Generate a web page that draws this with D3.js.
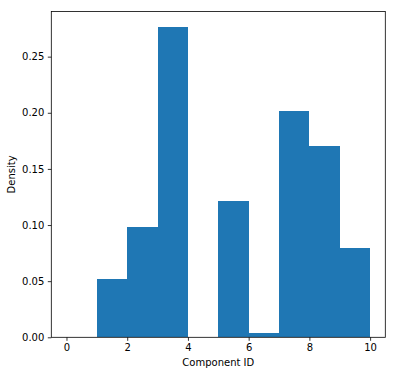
<!DOCTYPE html>
<html>
<head>
<meta charset="utf-8">
<script src="https://cdn.jsdelivr.net/npm/d3@7"></script>
<style>
  body { margin: 0; background: #fff; }
  text { font-family: "DejaVu Sans", sans-serif; }
</style>
</head>
<body>
<script>
// histogram bins (left edge, right edge) and density per bin
var binStarts = [0, 1, 2, 3, 4, 5, 6, 7, 8, 9];
var binEnds = [1, 2, 3, 4, 5, 6, 7, 8, 9, 10];
var density = [0, 0.0518, 0.0982, 0.2764, 0, 0.121, 0.0041, 0.2018, 0.1707, 0.0793];
var xTicks = [0, 2, 4, 6, 8, 10];
var yTicks = [0, 0.05, 0.10, 0.15, 0.20, 0.25];

var width = 396,
    height = 375,
    margin = {top: 11.5, right: 10.7, bottom: 37.7, left: 51.3};

var x = d3.scaleLinear()
    .domain([-0.5, 10.5])
    .range([margin.left, width - margin.right]);

var y = d3.scaleLinear()
    .domain([0, d3.max(density) * 1.05])
    .range([height - margin.bottom, margin.top]);

var svg = d3.select("body").append("svg")
    .attr("width", width)
    .attr("height", height);

var bins = binStarts.map(function(s, i) {
  return {x0: s, x1: binEnds[i], v: density[i]};
});

svg.append("g").selectAll("rect")
    .data(bins)
  .enter().append("rect")
    .attr("x", function(d) { return x(d.x0); })
    .attr("width", function(d) { return x(d.x1) - x(d.x0); })
    .attr("y", function(d) { return y(d.v); })
    .attr("height", function(d) { return y(0) - y(d.v); })
    .attr("fill", "#1f77b4")
    .attr("shape-rendering", "crispEdges");

var xAxis = svg.append("g")
    .attr("transform", "translate(0," + (height - margin.bottom) + ")")
    .call(d3.axisBottom(x).tickValues(xTicks).tickFormat(d3.format("d")).tickSize(3.5).tickPadding(3.5));

var yAxis = svg.append("g")
    .attr("transform", "translate(" + margin.left + ",0)")
    .call(d3.axisLeft(y).tickValues(yTicks).tickFormat(d3.format(".2f")).tickSize(3.5).tickPadding(3.5));

[xAxis, yAxis].forEach(function(g) {
  g.select(".domain").remove();
  g.selectAll(".tick line").attr("stroke", "#000").attr("stroke-width", 0.8);
  g.selectAll(".tick text").attr("fill", "#000").style("font-size", "10px").style("font-family", "DejaVu Sans");
});

// frame
svg.append("rect")
    .attr("x", margin.left)
    .attr("y", margin.top)
    .attr("width", width - margin.left - margin.right)
    .attr("height", height - margin.top - margin.bottom)
    .attr("fill", "none")
    .attr("stroke", "#000")
    .attr("stroke-width", 0.8);

svg.append("text")
    .attr("x", (margin.left + width - margin.right) / 2)
    .attr("y", 366)
    .attr("text-anchor", "middle")
    .style("font-size", "10px")
    .text("Component ID");

svg.append("text")
    .attr("transform", "translate(15," + ((margin.top + height - margin.bottom) / 2) + ") rotate(-90)")
    .attr("text-anchor", "middle")
    .style("font-size", "10px")
    .text("Density");
</script>
</body>
</html>
